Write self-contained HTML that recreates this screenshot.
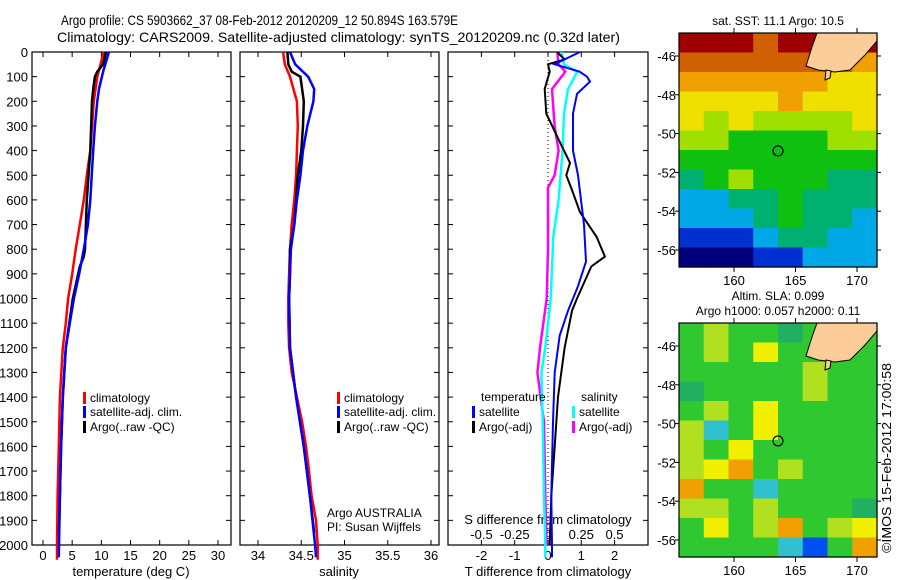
<!DOCTYPE html>
<html><head><meta charset="utf-8">
<style>
html,body{margin:0;padding:0;background:#fff;}
svg{display:block;font-family:"Liberation Sans",sans-serif;}
text{fill:#000;}
</style></head>
<body>
<svg id="fig" width="900" height="580" viewBox="0 0 900 580" xmlns="http://www.w3.org/2000/svg">
<text x="61" y="25" font-size="14" textLength="397" lengthAdjust="spacingAndGlyphs">Argo profile: CS 5903662_37 08-Feb-2012 20120209_12 50.894S 163.579E</text>
<text x="57" y="42" font-size="14" textLength="563" lengthAdjust="spacingAndGlyphs">Climatology: CARS2009. Satellite-adjusted climatology: synTS_20120209.nc (0.32d later)</text>
<g id="p1"></g>
<g id="p2"></g>
<g id="p3"></g>
<g id="m1"></g>
<g id="m2"></g>
<text transform="translate(891,553) rotate(-90)" font-size="13" textLength="190" lengthAdjust="spacingAndGlyphs">©IMOS 15-Feb-2012 17:00:58</text>
</svg>
<script>
// ---------- data ----------
const depthTicks = [0,100,200,300,400,500,600,700,800,900,1000,1100,1200,1300,1400,1500,1600,1700,1800,1900,2000];
const tempTicks = [0,5,10,15,20,25,30];
const salTicks = [34,34.5,35,35.5,36];
const dTTicks = [-2,-1,0,1,2];
const dSTicks = [-0.5,-0.25,0,0.25,0.5];

const tClimDepth = [0,100,200,400,500,600,700,800,900,1000,1100,1200,1400,1600,1800,2000,2060];
const tClim = [10.4,9.3,8.7,8.1,7.5,7.0,6.3,5.6,5.0,4.3,3.9,3.4,2.9,2.7,2.5,2.4,2.4];
const tSatDepth = [0,80,100,150,200,300,400,600,700,800,900,1000,1100,1200,1400,1600,1800,2000,2050];
const tSat = [11.3,10.3,10.1,9.6,9.3,8.9,8.6,8.1,7.7,7.0,6.2,5.3,4.6,3.9,3.4,3.1,2.9,2.75,2.7];
const tArgoDepth = [0,50,80,100,150,200,400,600,800,830,870,1000,1100,1200,1400,1600,1800,1950];
const tArgo = [10.8,10.3,9.3,8.9,8.6,8.4,8.1,7.5,7.2,7.0,6.3,5.1,4.5,3.9,3.4,3.1,2.9,2.75];

const sClimDepth = [0,50,100,200,300,400,500,600,700,800,900,1000,1100,1200,1300,1400,1500,1600,1700,1800,1900,2000,2060];
const sClim = [34.29,34.31,34.37,34.45,34.46,34.45,34.44,34.42,34.39,34.37,34.36,34.35,34.35,34.36,34.39,34.45,34.51,34.555,34.59,34.62,34.67,34.69,34.69];
const sSatDepth = [0,50,100,150,200,300,400,500,600,700,800,900,1000,1200,1400,1600,1800,2000,2050];
const sSat = [34.37,34.43,34.58,34.65,34.64,34.57,34.52,34.49,34.45,34.42,34.38,34.37,34.36,34.37,34.44,34.53,34.60,34.66,34.67];
const sArgoDepth = [0,50,80,100,200,300,400,500,600,700,800,900,1000,1200,1400,1600,1800,1950];
const sArgo = [34.34,34.35,34.39,34.49,34.53,34.52,34.50,34.46,34.44,34.42,34.37,34.37,34.36,34.37,34.44,34.53,34.60,34.65];

const dTSatDepth = [0,30,50,80,100,120,170,250,400,500,700,850,950,1050,1150,1300,1500,1800,2000,2050];
const dTSat = [0.96,0.5,0.2,0.95,1.17,1.26,0.87,0.75,0.75,0.9,1.08,1.14,0.9,0.6,0.35,0.2,0.15,0.1,0.12,0.12];
const dTArgoDepth = [0,30,50,80,150,250,350,450,500,560,650,750,830,870,1000,1050,1200,1400,1600,1800,2000];
const dTArgo = [0.27,0.5,0,0.05,-0.1,-0.05,0.3,0.66,0.55,0.72,0.96,1.46,1.71,1.3,0.87,0.72,0.5,0.3,0.2,0.1,0.05];
const dSSatDepth = [0,50,80,150,250,400,600,750,1000,1200,1300,1500,1800,2000,2050];
const dSSat = [0.1,0.12,0.22,0.15,0.12,0.11,0.08,0.04,0.02,-0.02,-0.05,-0.04,-0.03,-0.02,-0.02];
const dSArgoDepth = [0,50,80,150,300,400,500,550,800,1000,1200,1300,1500,1800,2000];
const dSArgo = [0.07,0.08,0.13,0.03,0.05,0.08,0.05,0.0,0.0,-0.01,-0.06,-0.08,-0.03,-0.02,-0.01];

const lonTicks = [160,165,170];
const latTicks = [-46,-48,-50,-52,-54,-56];
const sstPalette = ['#00007f','#0030d0','#00a8e8','#00b070','#10c010','#a0e000','#f0e000','#f0a000','#d06000','#a00000'];
const sstGrid = [
 [9,9,9,8,9,9,9,9],
 [8,8,8,8,8,8,8,7],
 [7,7,7,7,7,7,6,6],
 [6,6,6,6,7,6,6,6],
 [6,5,6,5,5,5,5,6],
 [5,5,4,4,4,4,5,5],
 [4,4,4,4,4,4,4,4],
 [3,4,5,4,4,4,3,3],
 [2,2,3,3,4,3,3,3],
 [2,2,2,3,4,3,3,2],
 [1,1,1,2,3,3,2,2],
 [0,0,0,1,1,2,2,2]];
const slaPalette = ['#0050f0','#30c0d0','#20b060','#30c830','#b0e020','#f0f000','#f0a000'];
const slaGrid = [
 [3,4,3,3,2,3,3,3],
 [3,4,3,5,3,3,3,3],
 [3,3,3,3,3,4,3,3],
 [2,3,3,3,3,4,3,3],
 [3,4,3,5,3,3,3,3],
 [4,1,3,5,3,3,3,3],
 [4,3,5,3,3,3,3,3],
 [4,5,6,3,4,3,3,3],
 [6,3,3,1,3,3,3,3],
 [4,4,3,4,3,3,3,2],
 [3,5,3,4,6,3,4,5],
 [3,3,3,3,1,0,3,6]];

// ---------- helpers ----------
const NS = 'http://www.w3.org/2000/svg';
function mk(parent, tag, attrs, txt){
  const e = document.createElementNS(NS, tag);
  for (const k in attrs) e.setAttribute(k, attrs[k]);
  if (txt !== undefined) e.textContent = txt;
  parent.appendChild(e);
  return e;
}
const TOP = 52, BOT = 545;
const yD = d => TOP + d * 0.2465;
function lin(d0, d1, r0, r1){ return v => r0 + (v - d0) * (r1 - r0) / (d1 - d0); }

function panel(g, x0, x1, xs, ticks, name){
  const fr = mk(g,'rect',{x:x0,y:TOP,width:x1-x0,height:BOT-TOP,fill:'none',stroke:'#000','stroke-width':1.2});
  
  
  depthTicks.forEach(d => {
    const y = yD(d);
    const t1 = mk(g,'line',{x1:x0,x2:x0+5,y1:y,y2:y,stroke:'#000'});
    
    
    const t2 = mk(g,'line',{x1:x1-5,x2:x1,y1:y,y2:y,stroke:'#000'});
    
    
  });
  ticks.forEach(v => {
    const x = xs(v);
    const a = mk(g,'line',{x1:x,x2:x,y1:TOP,y2:TOP+5,stroke:'#000'});
    
    
    const b = mk(g,'line',{x1:x,x2:x,y1:BOT-5,y2:BOT,stroke:'#000'});
    
    
  });
}
function xLabels(g, xs, ticks, y, name){
  ticks.forEach(v => {
    const t = mk(g,'text',{x:xs(v),y:y,'font-size':13,'text-anchor':'middle'}, String(v));
    
    
  });
}
function series(g, xs, depth, vals, color, name, w){
  const pts = depth.map((d,i) => xs(vals[i]).toFixed(1) + ',' + yD(d).toFixed(1)).join(' ');
  const p = mk(g,'polyline',{points:pts,fill:'none',stroke:color,'stroke-width':w||2.5,'stroke-linejoin':'miter'});
  
  
}
function legendEntry(g, x, y, color, label){
  const r = mk(g,'rect',{x:x,y:y-9,width:3,height:12,fill:color});
  
  
  const t = mk(g,'text',{x:x+7,y:y+1,'font-size':12}, label);
  
  
}

// ---------- panel 1: temperature ----------
const p1 = document.getElementById('p1');
const xT = lin(0, 30, 43, 218);
panel(p1, 32, 231, xT, tempTicks, 'temperature-panel');
depthTicks.forEach(d => {
  const t = mk(p1,'text',{x:28,y:yD(d)+5,'font-size':13,'text-anchor':'end'}, String(d));
  
  
});
xLabels(p1, xT, tempTicks, 560, 'temperature-tick-label');
let ax = mk(p1,'text',{x:131,y:576,'font-size':13,'text-anchor':'middle'}, 'temperature (deg C)');


series(p1, xT, tClimDepth, tClim, '#ff0000', 'temperature-climatology-line');
series(p1, xT, tArgoDepth, tArgo, '#000000', 'temperature-argo-line');
series(p1, xT, tSatDepth, tSat, '#0000ff', 'temperature-satellite-line');
legendEntry(p1, 83, 401, '#ff0000', 'climatology');
legendEntry(p1, 83, 415, '#0000ff', 'satellite-adj. clim.');
legendEntry(p1, 83, 430, '#000000', 'Argo(..raw -QC)');

// ---------- panel 2: salinity ----------
const p2 = document.getElementById('p2');
const xS = lin(34, 36, 258, 431);
panel(p2, 240, 439, xS, salTicks, 'salinity-panel');
xLabels(p2, xS, salTicks, 560, 'salinity-tick-label');
ax = mk(p2,'text',{x:339,y:576,'font-size':13,'text-anchor':'middle'}, 'salinity');


series(p2, xS, sClimDepth, sClim, '#ff0000', 'salinity-climatology-line');
series(p2, xS, sArgoDepth, sArgo, '#000000', 'salinity-argo-line');
series(p2, xS, sSatDepth, sSat, '#0000ff', 'salinity-satellite-line');
legendEntry(p2, 337, 401, '#ff0000', 'climatology');
legendEntry(p2, 337, 415, '#0000ff', 'satellite-adj. clim.');
legendEntry(p2, 337, 430, '#000000', 'Argo(..raw -QC)');
let tt = mk(p2,'text',{x:327,y:517,'font-size':12}, 'Argo AUSTRALIA');


tt = mk(p2,'text',{x:327,y:531,'font-size':12}, 'PI: Susan Wijffels');



// ---------- panel 3: differences ----------
const p3 = document.getElementById('p3');
const xdT = lin(0, 1, 548, 581.3);
const xdS = lin(0, 0.5, 548, 614.5);
panel(p3, 448, 648, xdT, dTTicks, 'difference-panel');
const zl = mk(p3,'line',{x1:548,x2:548,y1:TOP,y2:BOT,stroke:'#000','stroke-dasharray':'1,3'});


xLabels(p3, xdT, dTTicks, 560, 'dT-tick-label');
xLabels(p3, xdS, dSTicks, 539, 'dS-tick-label');
ax = mk(p3,'text',{x:548,y:576,'font-size':13,'text-anchor':'middle'}, 'T difference from climatology');


ax = mk(p3,'text',{x:548,y:524,'font-size':13,'text-anchor':'middle'}, 'S difference from climatology');


series(p3, xdS, dSArgoDepth, dSArgo, '#ff00ff', 'salinity-argo-diff-line');
series(p3, xdS, dSSatDepth, dSSat, '#00ffff', 'salinity-satellite-diff-line');
series(p3, xdT, dTArgoDepth, dTArgo, '#000000', 'temperature-argo-diff-line', 2);
series(p3, xdT, dTSatDepth, dTSat, '#0000ff', 'temperature-satellite-diff-line', 2);
tt = mk(p3,'text',{x:481,y:401,'font-size':12}, 'temperature');


tt = mk(p3,'text',{x:581,y:401,'font-size':12}, 'salinity');


legendEntry(p3, 472, 415, '#0000ff', 'satellite');
legendEntry(p3, 472, 430, '#000000', 'Argo(-adj)');
legendEntry(p3, 572, 415, '#00ffff', 'satellite');
legendEntry(p3, 572, 430, '#ff00ff', 'Argo(-adj)');

// ---------- maps ----------
function map(g, top, grid, pal, name, titles){
  const L = 679, R = 877, H = 234;
  const xLon = lin(160, 170, 734, 857);
  const yLat = lin(-46, -56, top + 23, top + 217);
  const rows = grid.length, cols = grid[0].length;
  const cw = (R - L) / cols, ch = H / rows;
  grid.forEach((row, i) => row.forEach((v, j) => {
    const c = mk(g,'rect',{x:(L + j*cw).toFixed(2),y:(top + i*ch).toFixed(2),width:(cw+0.6).toFixed(2),height:(ch+0.6).toFixed(2),fill:pal[v]});
    
    
  }));
  const land = mk(g,'path',{d:`M817,${top} L812,${top+14} L806,${top+33} L818,${top+37} L835,${top+39} L850,${top+37} L865,${top+22} L877,${top+8} L877,${top} Z`,fill:'#fccc99',stroke:'#000','stroke-width':1});
  
  
  const isl = mk(g,'path',{d:`M826,${top+37} L831,${top+38} L830,${top+45} L825,${top+47} Z`,fill:'#fccc99',stroke:'#000','stroke-width':1});
  
  
  const fr = mk(g,'rect',{x:L,y:top,width:R-L,height:H,fill:'none',stroke:'#000','stroke-width':1.2});
  
  
  lonTicks.forEach(v => {
    const x = xLon(v);
    mk(g,'line',{x1:x,x2:x,y1:top,y2:top-5,stroke:'#000'});
    mk(g,'line',{x1:x,x2:x,y1:top+H,y2:top+H+5,stroke:'#000'});
    const t = mk(g,'text',{x:x,y:top+H+18,'font-size':13,'text-anchor':'middle'}, String(v));
    
    
  });
  latTicks.forEach(v => {
    const y = yLat(v);
    mk(g,'line',{x1:L,x2:L-4,y1:y,y2:y,stroke:'#000'});
    mk(g,'line',{x1:R,x2:R+4,y1:y,y2:y,stroke:'#000'});
    const t = mk(g,'text',{x:676,y:y+5,'font-size':13,'text-anchor':'end'}, String(v));
    
    
  });
  const c = mk(g,'circle',{cx:xLon(163.579),cy:yLat(-50.894),r:5,fill:'none',stroke:'#000','stroke-width':1.2});
  
  
  titles.forEach((s, k) => {
    const t = mk(g,'text',{x:778,y:top - 8 - (titles.length-1-k)*15,'font-size':12,'text-anchor':'middle'}, s);
    
    
  });
}
map(document.getElementById('m1'), 33, sstGrid, sstPalette, 'sst-map', ['sat. SST: 11.1 Argo: 10.5']);
map(document.getElementById('m2'), 323, slaGrid, slaPalette, 'sla-map', ['Altim. SLA: 0.099','Argo h1000: 0.057 h2000: 0.11']);
</script>
</body></html>
